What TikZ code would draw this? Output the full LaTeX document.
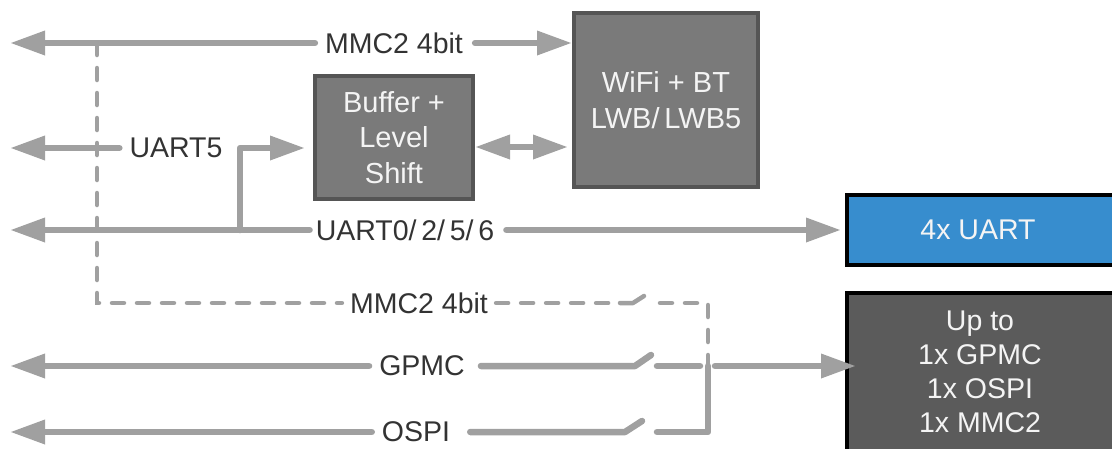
\documentclass[tikz,border=0pt]{standalone}
\usepackage{fontspec}
\setmainfont{Liberation Sans}
\usetikzlibrary{arrows.meta}
\definecolor{wirec}{HTML}{A0A0A0}
\definecolor{txtc}{HTML}{333333}
\definecolor{boxg}{HTML}{7A7A7A}
\definecolor{boxe}{HTML}{555555}
\definecolor{uartblue}{HTML}{378DCE}
\definecolor{darkbox}{HTML}{5B5B5B}
\definecolor{wtxt}{HTML}{F4F4F4}
\begin{document}
\begin{tikzpicture}[x=1pt,y=-1pt,
  wire/.style={draw=wirec, line width=6.5pt, line cap=round, line join=round},
  tipend/.style={-{Triangle[length=35pt,width=23pt]}},
  tipboth/.style={{Triangle[length=35pt,width=23pt]}-{Triangle[length=35pt,width=23pt]}},
  dwire/.style={draw=wirec, line width=4.5pt, line cap=round, dash pattern=on 12pt off 13pt},
  swire/.style={draw=wirec, line width=4.5pt, line cap=round, line join=round},
  lbl/.style={text=txtc, font=\fontsize{28.5}{30}\selectfont, inner sep=0pt},
  grayblk/.style={draw=boxe, line width=4pt, fill=boxg, text=wtxt, align=center,
    font=\fontsize{29}{35.5}\selectfont, inner sep=0pt},
  blackblk/.style={draw=black, line width=4pt, inner sep=0pt}
]
\path[use as bounding box, clip] (0,0) rectangle (1112,448);

% blocks
\node[grayblk, minimum width=184pt, minimum height=174pt] (wifi) at (666,100) {WiFi + BT\\LWB/\,LWB5};
\node[grayblk, minimum width=158pt, minimum height=123pt] (buf) at (394,137.5) {Buffer +\\Level\\Shift};
\node[blackblk, fill=uartblue, minimum width=280pt, minimum height=70pt] (uart) at (987,230) {};
\node[text=wtxt, font=\fontsize{28.5}{30}\selectfont, inner sep=0pt] (uarttxt) at (978,230) {4x UART};
\node[blackblk, fill=darkbox, minimum width=280pt, minimum height=180pt] (upto) at (987,383) {};
\node[text=wtxt, font=\fontsize{28.5}{34}\selectfont, align=center, inner sep=0pt] (uptotxt) at (980,372) {Up to\\1x GPMC\\1x OSPI\\1x MMC2};

% labels
\node[lbl] (mmcA) at (394,43) {MMC2 4bit};
\node[lbl] (u5) at (176,148) {UART5};
\node[lbl] (u0) at (405,230) {UART0/\,2/\,5/\,6};
\node[lbl] (mmcB) at (419,303) {MMC2 4bit};
\node[lbl] (gpmc) at (422,366) {GPMC};
\node[lbl] (ospi) at (416,432) {OSPI};

% coordinates
\coordinate (l1) at (10,43);
\coordinate (l2) at (10,148);
\coordinate (l3) at (10,230);
\coordinate (l4) at (10,366);
\coordinate (l5) at (10,432);
\coordinate (dtop) at (97,43);
\coordinate (elb) at (240,230);
\coordinate (jx) at (708,366);

% top MMC2 line
\draw[wire, tipend] ([xshift=-10pt]mmcA.west) -- (l1);
\draw[wire, tipend] ([xshift=12pt]mmcA.east) -- (wifi.west |- mmcA);

% UART5
\draw[wire, tipend] ([xshift=-10pt]u5.west) -- (l2);
\draw[wire, tipend] (elb) |- ([xshift=-8pt]buf.west |- u5);

% UART0/2/5/6
\draw[wire, tipend] ([xshift=-6pt]u0.west) -- (l3);
\draw[wire, tipend] ([xshift=12pt]u0.east) -- ([xshift=-4pt]uart.west);

% buffer <-> wifi
\draw[wire, tipboth] ([yshift=-9.5pt]buf.east) -- ([xshift=-4pt,yshift=-9.5pt]buf.east -| wifi.west);

% dashed MMC2 path
\draw[dwire] (dtop) |- ([xshift=-8pt]mmcB.west);
\draw[dwire] ([xshift=8pt]mmcB.east) -- (612,303);
\draw[swire] (620,303) -- (633,303) -- (644,296);
\draw[dwire] (660,303) -- (708,303) -- (jx);

% GPMC
\draw[wire, tipend] ([xshift=-10pt]gpmc.west) -- (l4);
\draw[wire] ([xshift=16pt]gpmc.east) -- (635,366) -- (651,355);
\draw[wire] (657,366) -- (700,366);
\draw[wire, tipend] (715,366) -- ([xshift=11pt]upto.west |- jx);

% OSPI
\draw[wire, tipend] ([xshift=-10pt]ospi.west) -- (l5);
\draw[wire] ([xshift=20pt]ospi.east) -- (625,432) -- (642,421);
\draw[wire] (657,432) -- (708,432) -- (jx);
\end{tikzpicture}
\end{document}
